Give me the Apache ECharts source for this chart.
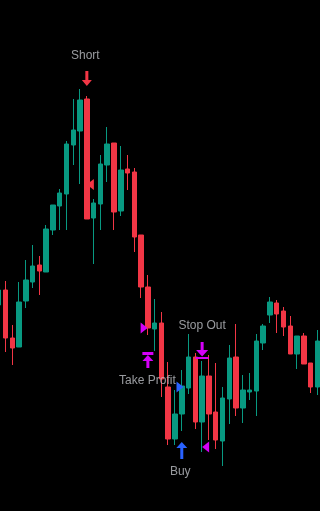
<!DOCTYPE html>
<html><head><meta charset="utf-8">
<script src="https://cdn.jsdelivr.net/npm/echarts@6/dist/echarts.min.js"></script>
<style>html,body{margin:0;padding:0;background:#000;overflow:hidden;width:320px;height:511px;position:relative}#c{position:absolute;left:-10px;top:0;width:340px;height:511px}</style>
</head><body><div id="c"></div>
<script>
// Bars (categories)
const categories = ['1','2','3','4','5','6','7','8','9','10','11','12','13','14','15','16','17','18','19','20','21','22','23','24','25','26','27','28','29','30','31','32','33','34','35','36','37','38','39','40','41','42','43','44','45','46','47','48'];
// OHLC values
const opens  = [120.6,122.1,117.3,116.4,121.0,122.9,124.6,123.9,128.1,130.5,131.7,136.6,138.0,141.2,129.3,130.7,134.6,136.8,130.0,134.2,133.9,127.6,122.4,118.2,118.8,112.4,107.2,109.7,112.3,115.4,108.9,113.5,109.9,107.0,111.2,115.4,110.3,111.9,112.0,116.8,119.6,120.8,120.0,118.5,115.7,117.5,114.8,112.4];
const closes = [122.1,117.3,116.3,120.9,123.1,124.5,124.0,128.2,130.6,131.8,136.7,138.1,141.1,129.2,130.8,134.7,136.7,129.9,134.1,133.8,127.4,122.4,118.3,118.8,113.2,107.2,109.7,112.5,115.4,108.9,113.5,109.7,107.1,111.3,115.3,110.3,112.1,112.1,117.0,118.5,120.9,119.7,118.4,115.7,117.5,114.7,112.4,117.0];
const lows   = [120.1,115.9,114.6,116.4,120.3,122.3,121.6,123.9,127.6,128.1,128.1,134.6,132.7,129.2,124.7,128.1,132.9,128.1,129.5,132.1,125.9,121.3,117.6,116.0,111.4,106.6,106.6,108.0,111.7,108.2,105.9,107.1,106.2,104.5,108.7,109.5,108.8,111.1,109.5,116.1,118.8,117.8,117.5,115.7,114.2,114.7,111.8,111.6];
const highs  = [122.6,123.0,118.6,122.9,125.1,126.6,125.5,128.6,130.6,132.2,137.0,141.2,142.2,141.5,131.2,135.6,138.4,136.8,136.5,135.6,134.3,127.6,123.6,121.2,119.9,114.9,112.1,114.1,117.7,115.8,115.0,115.6,114.8,112.4,116.6,118.7,113.6,113.8,117.7,118.7,121.4,121.1,120.4,119.5,117.5,117.8,114.8,118.1];

// Signal annotations
const signalLabels     = ['Short','Stop Out','Take Profit','Buy'];
const signalIndex      = [13, 30, 22, 27];
const signalTextPrice  = [145.5, 118.5, 113.0, 103.9];
const signalArrowPrice = [143.25, 116.05, 115.1, 106.05];
const signalKinds      = ['down','downBar','upBar','up'];
const signalColors     = ['#F23645','#D500F9','#D500F9','#2962FF'];

// Small triangle markers
const markerIndex  = [13, 21, 26, 30];
const markerPrice  = [132.65, 118.3, 112.4, 106.4];
const markerDir    = ['left','right','right','left'];
const markerColors = ['#F23645','#D500F9','#2962FF','#D500F9'];

const GREEN = '#089981', RED = '#F23645';
const candles = opens.map((o, i) => [o, closes[i], lows[i], highs[i]]);

const arrowShapes = {
  down:    {path: 'path://M3.5,0H6.5V9H10L5,15L0,9H3.5Z', size: [10, 15]},
  up:      {path: 'path://M5.5,0L11,6H7V17H4V6H0Z', size: [11, 17]},
  upBar:   {path: 'path://M0,0H11V3H0Z M5.5,3L11,9H7V16H4V9H0Z', size: [11, 16]},
  downBar: {path: 'path://M5,0H8V8H12.5L6.5,14.5L0.5,8H5Z M0,15H13V17H0Z', size: [13, 17]}
};
const triShapes = {
  left:  'path://M0,5L7,0V10Z',
  right: 'path://M7,5L0,0V10Z'
};
const markerOffsets = [[3.5,0],[3,0],[5,0],[3.5,0]];

const arrowData = signalLabels.map((s, i) => ({
  value: [signalIndex[i], signalArrowPrice[i]],
  symbol: arrowShapes[signalKinds[i]].path,
  symbolSize: arrowShapes[signalKinds[i]].size,
  itemStyle: {color: signalColors[i], opacity: 1}
}));
const markerData = markerIndex.map((idx, i) => ({
  value: [idx, markerPrice[i]],
  symbol: triShapes[markerDir[i]],
  symbolSize: [7, 11],
  symbolOffset: markerOffsets[i],
  itemStyle: {color: markerColors[i], opacity: 1}
}));
const textData = signalLabels.map((s, i) => ({
  value: [signalIndex[i], signalTextPrice[i]],
  name: s
}));
const textOffsets = [[-1.5,0],[0,0],[-0.5,0],[-1.5,0]];

const chart = echarts.init(document.getElementById('c'), null, {renderer: 'canvas'});
chart.setOption({
  backgroundColor: '#000000',
  animation: false,
  grid: {left: 5.3, width: 325.5, top: 0, height: 511},
  xAxis: {type: 'category', data: categories, show: false, boundaryGap: true},
  yAxis: {type: 'value', min: 100, max: 151.1, show: false, splitLine: {show: false}},
  series: [
    {
      type: 'candlestick',
      data: candles,
      barWidth: 5,
      clip: false,
      itemStyle: {color: GREEN, color0: RED, borderColor: GREEN, borderColor0: RED, borderWidth: 1}
    },
    {
      type: 'scatter',
      data: markerData,
      z: 5,
      silent: true
    },
    {
      type: 'scatter',
      data: arrowData,
      z: 5,
      silent: true
    },
    {
      type: 'scatter',
      z: 6,
      silent: true,
      symbolSize: 1,
      itemStyle: {color: 'transparent'},
      data: textData.map((d, i) => Object.assign(d, {label: {offset: textOffsets[i]}})),
      label: {
        show: true,
        position: 'inside',
        formatter: p => p.name,
        color: '#BEC0C6',
        fontSize: 12,
        fontFamily: 'Liberation Sans, Arial, sans-serif'
      }
    }
  ]
});
</script>
</body></html>
